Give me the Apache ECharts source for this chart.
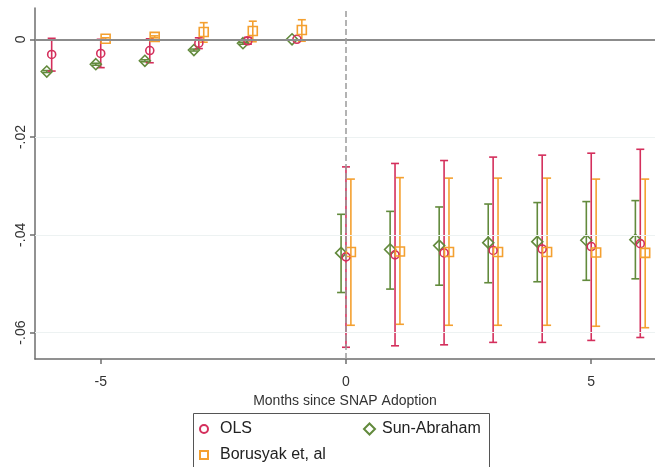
<!DOCTYPE html>
<html>
<head>
<meta charset="utf-8">
<script src="https://cdn.jsdelivr.net/npm/echarts@6/dist/echarts.min.js"></script>
<style>
  html, body { margin: 0; padding: 0; background: #fff; }
  #chart { width: 655px; height: 467px; }
</style>
</head>
<body>
<div id="chart"></div>
<script>
// Event-study estimates by months relative to SNAP adoption
const events = [-6, -5, -4, -3, -2, -1, 0, 1, 2, 3, 4, 5, 6];

const olsCoef = [-0.0031, -0.0029, -0.0023, -0.0008, -0.0003, 0, -0.0445, -0.0441, -0.0437, -0.0432, -0.0429, -0.0424, -0.0418];
const olsLow  = [-0.0065, -0.0058, -0.0048, -0.0019, -0.0010, null, -0.0630, -0.0627, -0.0625, -0.0620, -0.0620, -0.0616, -0.0610];
const olsHigh = [0.0002, 0.0000, 0.0001, 0.0003, 0.0004, null, -0.0261, -0.0254, -0.0248, -0.0241, -0.0237, -0.0233, -0.0225];

const saCoef = [-0.0066, -0.0051, -0.0044, -0.0022, -0.0008, 0, -0.0437, -0.0430, -0.0422, -0.0416, -0.0414, -0.0411, -0.0410];
const saLow  = [-0.0068, -0.0053, -0.0046, -0.0024, -0.0010, null, -0.0518, -0.0511, -0.0503, -0.0498, -0.0496, -0.0493, -0.0490];
const saHigh = [-0.0064, -0.0049, -0.0042, -0.0020, -0.0006, null, -0.0358, -0.0352, -0.0343, -0.0337, -0.0334, -0.0332, -0.0330];

const borEvents = [-5, -4, -3, -2, -1, 0, 1, 2, 3, 4, 5, 6];
const borCoef = [0.0001, 0.0005, 0.0015, 0.0017, 0.0019, -0.0435, -0.0434, -0.0435, -0.0435, -0.0435, -0.0436, -0.0437];
const borLow  = [-0.0001, 0.0003, -0.0006, -0.0005, -0.0004, -0.0585, -0.0583, -0.0585, -0.0585, -0.0585, -0.0587, -0.0590];
const borHigh = [0.0003, 0.0007, 0.0034, 0.0037, 0.0040, -0.0286, -0.0283, -0.0284, -0.0284, -0.0284, -0.0286, -0.0286];

const xTicks = [-5, 0, 5];
const yTicks = [-0.06, -0.04, -0.02, 0];

const RED = '#d42f5c', ORANGE = '#f4a030', GREEN = '#628a3c';
const FONT = 'Liberation Sans, Arial, sans-serif';
// horizontal dodge so the three estimators sit side by side
const DODGE = 0.1;

function points(xs, ys, shift) {
  return xs.map((e, i) => [e + shift, ys[i]]);
}

function errorBars(name, color, xs, lo, hi, shift, extra) {
  const data = [];
  xs.forEach((e, i) => { if (lo[i] != null) data.push([e + shift, lo[i], hi[i]]); });
  return Object.assign({
    type: 'custom',
    name: name,
    data: data,
    encode: { x: 0, y: [1, 2] },
    silent: true,
    renderItem: function (params, api) {
      const x = api.value(0);
      const a = api.coord([x, api.value(1)]);
      const b = api.coord([x, api.value(2)]);
      const w = 4;
      const st = { stroke: color, lineWidth: 1.6 };
      return {
        type: 'group',
        children: [
          { type: 'line', shape: { x1: a[0], y1: a[1], x2: b[0], y2: b[1] }, style: st },
          { type: 'line', shape: { x1: a[0] - w, y1: a[1], x2: a[0] + w, y2: a[1] }, style: st },
          { type: 'line', shape: { x1: b[0] - w, y1: b[1], x2: b[0] + w, y2: b[1] }, style: st }
        ]
      };
    }
  }, extra || {});
}

function markers(name, color, symbol, size, data) {
  return {
    type: 'scatter',
    name: name,
    data: data,
    symbol: symbol,
    symbolSize: size,
    silent: true,
    itemStyle: { color: 'transparent', borderColor: color, borderWidth: 1.6, opacity: 1 }
  };
}

const refLines = {
  markLine: {
    silent: true,
    symbol: 'none',
    label: { show: false },
    animation: false,
    data: [
      ...yTicks.filter(v => v !== 0).map(v => ({ yAxis: v, lineStyle: { color: '#edf2f2', width: 1, type: 'solid' } })),
      { yAxis: 0, lineStyle: { color: '#8c8c8c', width: 2, type: 'solid' } },
      { xAxis: 0, lineStyle: { color: '#9a9a9a', width: 1.5, type: [6, 3] } }
    ]
  }
};

const legendBase = {
  orient: 'horizontal',
  padding: 0,
  itemGap: 0,
  selectedMode: false,
  textStyle: { fontSize: 16, color: '#222', fontFamily: FONT }
};

const chart = echarts.init(document.getElementById('chart'), null, { renderer: 'canvas' });
chart.setOption({
  animation: false,
  backgroundColor: '#fff',
  grid: { left: 35, right: 0, top: 8, bottom: 108, outerBoundsMode: 'none' },
  xAxis: {
    type: 'value',
    min: -6.34,
    max: 6.30,
    axisLine: { onZero: false, lineStyle: { color: '#6e6e6e', width: 1.5 } },
    axisTick: { customValues: xTicks, length: 5, lineStyle: { color: '#6e6e6e', width: 1.5 } },
    axisLabel: { customValues: xTicks, margin: 16, fontSize: 14, color: '#333', fontFamily: FONT },
    splitLine: { show: false },
    name: 'Months since SNAP Adoption',
    nameLocation: 'middle',
    nameGap: 27,
    nameTextStyle: { fontSize: 14, color: '#333', fontFamily: FONT }
  },
  yAxis: {
    type: 'value',
    min: -0.0654,
    max: 0.0064,
    axisLine: { show: true, onZero: false, lineStyle: { color: '#6e6e6e', width: 1.5 } },
    axisTick: { show: true, customValues: yTicks, length: 5, lineStyle: { color: '#6e6e6e', width: 1.5 } },
    axisLabel: {
      customValues: yTicks,
      rotate: 90,
      margin: 7,
      fontSize: 14,
      color: '#333',
      fontFamily: FONT,
      formatter: v => (Math.abs(v) < 1e-9 ? '0' : v.toFixed(2).replace('0.', '.'))
    },
    splitLine: { show: false }
  },
  legend: [
    Object.assign({}, legendBase, {
      data: ['OLS'], left: 199, top: 421, itemWidth: 8, itemHeight: 8,
      textStyle: Object.assign({}, legendBase.textStyle, { padding: [0, 0, 0, 7] })
    }),
    Object.assign({}, legendBase, {
      data: ['Sun-Abraham'], left: 363, top: 421, itemWidth: 11, itemHeight: 11,
      textStyle: Object.assign({}, legendBase.textStyle, { padding: [0, 0, 0, 2] })
    }),
    Object.assign({}, legendBase, {
      data: ['Borusyak et, al'], left: 199, top: 447, itemWidth: 8, itemHeight: 8,
      textStyle: Object.assign({}, legendBase.textStyle, { padding: [0, 0, 0, 7] })
    })
  ],
  graphic: [{
    type: 'rect',
    shape: { x: 193.5, y: 413.5, width: 296, height: 80 },
    style: { fill: 'none', stroke: '#555', lineWidth: 1 },
    silent: true,
    z: 100
  }],
  series: [
    errorBars('Sun-Abraham CI', GREEN, events, saLow, saHigh, -DODGE, refLines),
    markers('Sun-Abraham', GREEN, 'diamond', 11, points(events, saCoef, -DODGE)),
    errorBars('OLS CI', RED, events, olsLow, olsHigh, 0),
    markers('OLS', RED, 'circle', 8, points(events, olsCoef, 0)),
    errorBars('Borusyak CI', ORANGE, borEvents, borLow, borHigh, DODGE),
    markers('Borusyak et, al', ORANGE, 'rect', 9, points(borEvents, borCoef, DODGE))
  ]
});
</script>
</body>
</html>
